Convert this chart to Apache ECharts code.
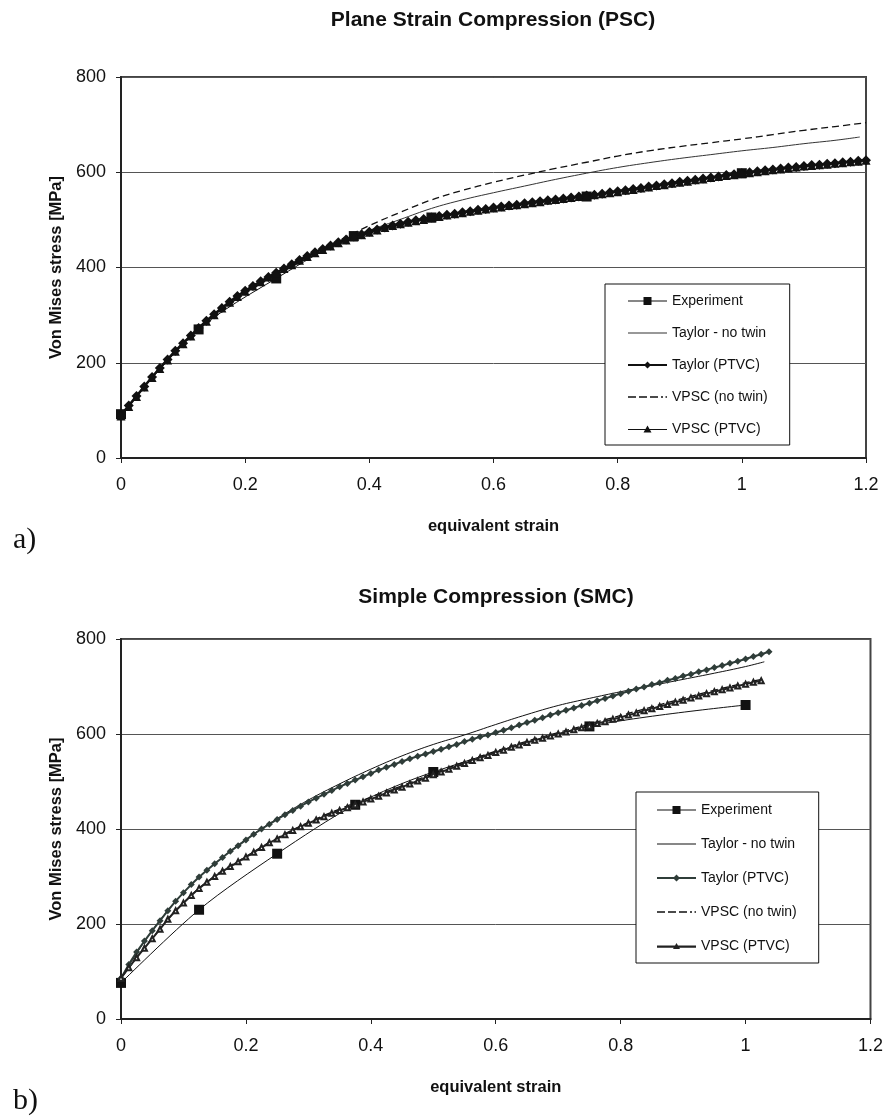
<!DOCTYPE html>
<html>
<head>
<meta charset="utf-8">
<title>Von Mises stress vs equivalent strain</title>
<script src="https://cdn.jsdelivr.net/npm/echarts@6/dist/echarts.min.js"></script>
<style>
html, body { margin: 0; padding: 0; background: #fff; }
#chart { width: 886px; height: 1118px; }
</style>
</head>
<body>
<div id="chart"></div>
<script>
"use strict";

/*-----data: shared strain grid of the simulated curves-----*/
var strainGrid = [
	0, 0.0125, 0.025, 0.0375, 0.05, 0.0625, 0.075, 0.0875,
	0.1, 0.1125, 0.125, 0.1375, 0.15, 0.1625, 0.175, 0.1875,
	0.2, 0.2125, 0.225, 0.2375, 0.25, 0.2625, 0.275, 0.2875,
	0.3, 0.3125, 0.325, 0.3375, 0.35, 0.3625, 0.375, 0.3875,
	0.4, 0.4125, 0.425, 0.4375, 0.45, 0.4625, 0.475, 0.4875,
	0.5, 0.5125, 0.525, 0.5375, 0.55, 0.5625, 0.575, 0.5875,
	0.6, 0.6125, 0.625, 0.6375, 0.65, 0.6625, 0.675, 0.6875,
	0.7, 0.7125, 0.725, 0.7375, 0.75, 0.7625, 0.775, 0.7875,
	0.8, 0.8125, 0.825, 0.8375, 0.85, 0.8625, 0.875, 0.8875,
	0.9, 0.9125, 0.925, 0.9375, 0.95, 0.9625, 0.975, 0.9875,
	1, 1.0125, 1.025, 1.0375, 1.05, 1.0625, 1.075, 1.0875,
	1.1, 1.1125, 1.125, 1.1375, 1.15, 1.1625, 1.175, 1.1875,
	1.2
];
var coarseStrain = [0, 0.05, 0.1, 0.15, 0.2, 0.25, 0.3, 0.35, 0.4, 0.45, 0.5, 0.55,
	0.6, 0.65, 0.7, 0.75, 0.8, 0.85, 0.9, 0.95, 1, 1.05, 1.1, 1.15, 1.2];

/*-----a) plane strain compression-----*/
var pscExpStrain = [0, 0.125, 0.25, 0.375, 0.5, 0.75, 1];
var pscExpStress = [92, 270, 377, 466, 505, 549, 598];

var pscTaylorNoTwinStrain = [0, 0.05, 0.1, 0.15, 0.2, 0.25, 0.3, 0.35, 0.4, 0.45, 0.5, 0.55,
	0.6, 0.65, 0.7, 0.75, 0.8, 0.85, 0.9, 0.95, 1, 1.05, 1.1, 1.15, 1.19];
var pscTaylorNoTwin = [90, 170, 241, 302, 351, 389, 424, 454, 478, 501, 524, 542,
	557, 571, 585, 598, 610, 620, 629, 637, 645, 652, 660, 667, 674];

var pscTaylorPtvc = [
	90, 110, 130, 150, 170, 189, 207, 225,
	241, 257, 273, 288, 302, 315, 328, 340,
	351, 361, 371, 380, 389, 398, 407, 416,
	424, 432, 439, 446, 453, 459, 465, 470,
	475, 480, 484, 488, 492, 496, 499, 502,
	505, 508, 511, 513, 516, 518, 521, 523,
	526, 528, 530, 532, 535, 537, 539, 541,
	543, 545, 547, 549, 551, 553, 555, 558,
	560, 562, 565, 567, 570, 572, 575, 577,
	580, 582, 584, 587, 589, 591, 594, 596,
	598, 600, 602, 604, 606, 608, 610, 611,
	613, 615, 616, 618, 619, 621, 622, 624,
	625
];

var pscVpscNoTwin = [90, 170, 241, 302, 351, 389, 424, 456, 488, 516, 542, 562,
	579, 594, 608, 621, 634, 645, 654, 662, 670, 679, 688, 696, 704];

var pscVpscPtvc = [
	88, 108, 129, 149, 169, 188, 206, 224,
	240, 256, 272, 287, 301, 315, 327, 339,
	350, 361, 370, 380, 389, 398, 406, 415,
	423, 431, 438, 445, 452, 458, 464, 469,
	474, 479, 484, 488, 492, 495, 498, 501,
	504, 507, 510, 513, 515, 518, 520, 523,
	525, 527, 530, 532, 534, 536, 538, 541,
	543, 545, 547, 549, 551, 553, 555, 557,
	559, 562, 564, 567, 569, 572, 574, 577,
	579, 581, 584, 586, 589, 591, 593, 595,
	597, 599, 601, 603, 605, 607, 609, 611,
	613, 614, 616, 617, 619, 620, 622, 623,
	625
];

/*-----b) simple compression-----*/
var smcExpStrain = [0, 0.125, 0.25, 0.375, 0.5, 0.75, 1];
var smcExpStress = [76, 230, 348, 451, 520, 616, 661];

var smcTaylorNoTwinStrain = [0, 0.05, 0.1, 0.15, 0.2, 0.25, 0.3, 0.35, 0.4, 0.45, 0.5,
	0.55, 0.6, 0.65, 0.7, 0.75, 0.8, 0.85, 0.9, 0.95, 1, 1.03];
var smcTaylorNoTwin = [86, 186, 266, 327, 378, 422, 461, 495, 526, 554, 578,
	598, 620, 641, 660, 675, 689, 702, 715, 728, 742, 752];

var smcTaylorPtvc = [
	86, 115, 141, 164, 186, 207, 228, 248,
	266, 283, 299, 313, 327, 340, 353, 365,
	377, 389, 400, 410, 420, 430, 439, 448,
	457, 465, 473, 481, 489, 496, 503, 510,
	517, 524, 530, 536, 542, 548, 553, 558,
	563, 568, 573, 578, 584, 589, 594, 598,
	603, 608, 613, 619, 624, 629, 634, 640,
	645, 650, 655, 660, 665, 670, 675, 680,
	685, 690, 695, 699, 704, 708, 713, 717,
	722, 726, 731, 735, 740, 744, 749, 753,
	758, 763, 768, 773
];

var smcVpscNoTwinStrain = [0, 0.05, 0.1, 0.15, 0.2, 0.25, 0.3, 0.35, 0.4, 0.45, 0.5,
	0.55, 0.6, 0.65, 0.7, 0.75, 0.8, 0.85, 0.9, 0.95, 1, 1.025];
var smcVpscNoTwin = [86, 170, 245, 301, 342, 381, 414, 442, 467, 491, 517,
	541, 564, 585, 603, 621, 639, 657, 675, 692, 708, 715];

var smcVpscPtvc = [
	86, 108, 129, 149, 169, 189, 210, 228,
	244, 260, 275, 288, 300, 311, 321, 331,
	341, 351, 361, 371, 379, 388, 397, 405,
	412, 419, 426, 433, 439, 445, 451, 457,
	463, 469, 476, 482, 488, 495, 501, 507,
	514, 520, 526, 532, 538, 544, 550, 555,
	561, 566, 572, 577, 582, 587, 591, 596,
	600, 604, 609, 613, 617, 622, 626, 631,
	635, 640, 644, 649, 653, 658, 662, 667,
	671, 676, 680, 685, 689, 693, 697, 701,
	705, 709, 712
];

var legendNames = ['Experiment', 'Taylor - no twin', 'Taylor (PTVC)', 'VPSC (no twin)', 'VPSC (PTVC)'];

/*-----helpers-----*/
var font = 'Liberation Sans, Arial, sans-serif';
var ink = '#111';

function pairs(xs, ys) {
	return ys.map(function (y, i) { return [xs[i], y]; });
}

// legend glyphs drawn like the excel keys
var icons = {
	'Experiment': 'path://M0,6.5h39v1h-39z M15.5,3h8v8h-8z',
	'Taylor - no twin': 'path://M0,0h39v1h-39z',
	'Taylor (PTVC)': 'path://M0,6h39v2h-39z M19.5,3.5l3.5,3.5l-3.5,3.5l-3.5,-3.5z',
	'VPSC (no twin)': 'path://M0,0h8v1.6h-8z M11,0h8v1.6h-8z M22,0h8v1.6h-8z M33,0h2v1.6h-2z M37.5,0h1.5v1.6h-1.5z',
	'VPSC (PTVC)': 'path://M0,6.5h39v1h-39z M19.5,3l4,7h-8z'
};
// in b) both PTVC keys use the heavy line
var iconsSmc = Object.assign({}, icons, {
	'VPSC (PTVC)': 'path://M0,6h39v2.2h-39z M19.5,3.5l3.5,6h-7z'
});

function xAxis(gridIndex) {
	return {
		type: 'value', gridIndex: gridIndex, min: 0, max: 1.2, interval: 0.2,
		name: 'equivalent strain', nameLocation: 'middle', nameGap: 60,
		nameTextStyle: { fontFamily: font, fontSize: 16.5, fontWeight: 'bold', color: ink },
		axisLine: { show: true, onZero: false, lineStyle: { color: '#222', width: 2 } },
		axisTick: { show: true, length: 5, lineStyle: { color: '#222', width: 1 } },
		axisLabel: { fontFamily: font, fontSize: 18, color: ink, margin: 18 },
		splitLine: { show: false }
	};
}

function yAxis(gridIndex) {
	return {
		type: 'value', gridIndex: gridIndex, min: 0, max: 800, interval: 200,
		name: 'Von Mises stress [MPa]', nameLocation: 'middle', nameGap: 52, nameRotate: 90,
		nameTextStyle: { fontFamily: font, fontSize: 16.5, fontWeight: 'bold', color: ink },
		axisLine: { show: true, lineStyle: { color: '#222', width: 2 } },
		axisTick: { show: true, length: 5, lineStyle: { color: '#222', width: 1 } },
		axisLabel: { fontFamily: font, fontSize: 18, color: ink, margin: 15 },
		splitLine: { show: true, lineStyle: { color: '#555', width: 1 } }
	};
}

function legend(prefix, iconSet, left, top, padding, gap) {
	return {
		orient: 'vertical', left: left, top: top, padding: padding,
		itemWidth: 39, itemHeight: 14, itemGap: gap,
		backgroundColor: '#fff', borderColor: ink, borderWidth: 1,
		selectedMode: false,
		itemStyle: { borderWidth: 0 },
		textStyle: { fontFamily: font, fontSize: 14, color: ink },
		formatter: function (name) { return name.split('|')[1]; },
		data: legendNames.map(function (n) { return { name: prefix + '|' + n, icon: iconSet[n] }; })
	};
}

/*-----series-----*/
var series = [
	// a) PSC
	{
		name: 'PSC|Experiment', type: 'line', xAxisIndex: 0, yAxisIndex: 0,
		data: pairs(pscExpStrain, pscExpStress), smooth: 0.3,
		symbol: 'rect', symbolSize: 10,
		itemStyle: { color: ink }, lineStyle: { color: ink, width: 1 }
	},
	{
		name: 'PSC|Taylor - no twin', type: 'line', xAxisIndex: 0, yAxisIndex: 0,
		data: pairs(pscTaylorNoTwinStrain, pscTaylorNoTwin), smooth: 0.4,
		symbol: 'none', itemStyle: { color: '#333' }, lineStyle: { color: '#333', width: 1 }
	},
	{
		name: 'PSC|Taylor (PTVC)', type: 'line', xAxisIndex: 0, yAxisIndex: 0,
		data: pairs(strainGrid, pscTaylorPtvc),
		symbol: 'diamond', symbolSize: 10,
		itemStyle: { color: ink }, lineStyle: { color: ink, width: 2.5 }
	},
	{
		name: 'PSC|VPSC (no twin)', type: 'line', xAxisIndex: 0, yAxisIndex: 0,
		data: pairs(coarseStrain, pscVpscNoTwin), smooth: 0.4,
		symbol: 'none', itemStyle: { color: ink },
		lineStyle: { color: ink, width: 1.3, type: [7, 4] }
	},
	{
		name: 'PSC|VPSC (PTVC)', type: 'line', xAxisIndex: 0, yAxisIndex: 0,
		data: pairs(strainGrid, pscVpscPtvc),
		symbol: 'triangle', symbolSize: 9,
		itemStyle: { color: ink }, lineStyle: { color: ink, width: 1 }
	},
	// b) SMC
	{
		name: 'SMC|Experiment', type: 'line', xAxisIndex: 1, yAxisIndex: 1,
		data: pairs(smcExpStrain, smcExpStress), smooth: 0.3,
		symbol: 'rect', symbolSize: 10,
		itemStyle: { color: ink }, lineStyle: { color: ink, width: 1 }
	},
	{
		name: 'SMC|Taylor - no twin', type: 'line', xAxisIndex: 1, yAxisIndex: 1,
		data: pairs(smcTaylorNoTwinStrain, smcTaylorNoTwin), smooth: 0.4,
		symbol: 'none', itemStyle: { color: ink }, lineStyle: { color: ink, width: 1 }
	},
	{
		name: 'SMC|Taylor (PTVC)', type: 'line', xAxisIndex: 1, yAxisIndex: 1,
		data: pairs(strainGrid, smcTaylorPtvc),
		symbol: 'diamond', symbolSize: 7,
		itemStyle: { color: '#2f3d39' }, lineStyle: { color: '#2f3d39', width: 2 }
	},
	{
		name: 'SMC|VPSC (no twin)', type: 'line', xAxisIndex: 1, yAxisIndex: 1,
		data: pairs(smcVpscNoTwinStrain, smcVpscNoTwin), smooth: 0.4,
		symbol: 'none', itemStyle: { color: ink },
		lineStyle: { color: ink, width: 1.3, type: [7, 4] }
	},
	{
		name: 'SMC|VPSC (PTVC)', type: 'line', xAxisIndex: 1, yAxisIndex: 1,
		data: pairs(strainGrid, smcVpscPtvc),
		symbol: 'emptyTriangle', symbolSize: 5,
		itemStyle: { color: '#222', borderWidth: 1 }, lineStyle: { color: '#222', width: 2 }
	}
];

/*-----chart-----*/
var chart = echarts.init(document.getElementById('chart'), null, { renderer: 'canvas' });
var option = {
	animation: false,
	backgroundColor: '#fff',
	title: [
		{
			text: 'Plane Strain Compression (PSC)', left: 493, top: 10, textAlign: 'center', padding: 0,
			textStyle: { fontFamily: font, fontSize: 21, fontWeight: 'bold', color: ink }
		},
		{
			text: 'Simple Compression (SMC)', left: 496, top: 587, textAlign: 'center', padding: 0,
			textStyle: { fontFamily: font, fontSize: 21, fontWeight: 'bold', color: ink }
		}
	],
	grid: [
		{ left: 121, top: 77, width: 745, height: 381, show: true, borderColor: '#444', borderWidth: 2 },
		{ left: 121, top: 639, width: 751, height: 380, show: true, borderColor: '#444', borderWidth: 2 }
	],
	xAxis: [xAxis(0), xAxis(1)],
	yAxis: [yAxis(0), yAxis(1)],
	legend: [
		legend('PSC', icons, 605, 284, [10, 22, 9, 23], 18),
		legend('SMC', iconsSmc, 636, 792, [11, 22, 10, 21], 20)
	],
	graphic: [
		{ type: 'text', x: 13, y: 540, style: { text: 'a)', font: '30px "Liberation Serif", serif', fill: ink, verticalAlign: 'middle' } },
		{ type: 'text', x: 13, y: 1101, style: { text: 'b)', font: '30px "Liberation Serif", serif', fill: ink, verticalAlign: 'middle' } }
	],
	series: series
};
chart.setOption(option);
window.addEventListener('resize', function () {
	chart.resize();
});
</script>
</body>
</html>
